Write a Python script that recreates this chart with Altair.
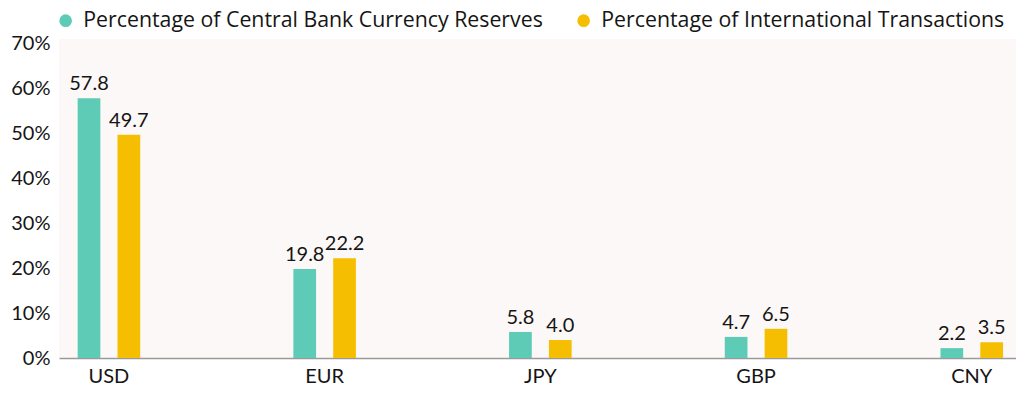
import altair as alt
import pandas as pd

currencies = ["USD", "EUR", "JPY", "GBP", "CNY"]
reserves = [57.8, 19.8, 5.8, 4.7, 2.2]
transactions = [49.7, 22.2, 4.0, 6.5, 3.5]
series_names = ["Percentage of Central Bank Currency Reserves",
                "Percentage of International Transactions"]
colors = ["#5ECBB6", "#F6BE00"]
y_ticks = [0, 10, 20, 30, 40, 50, 60, 70]

rows = []
for c, r, t in zip(currencies, reserves, transactions):
    rows.append({"currency": c, "series": series_names[0], "value": r})
    rows.append({"currency": c, "series": series_names[1], "value": t})
df = pd.DataFrame(rows)

FONT = "Lato"
LFONT = "Open Sans"
TXT = "#151515"

x = alt.X("currency:N", sort=currencies, title=None,
          scale=alt.Scale(paddingInner=0.71, paddingOuter=0.0733, align=0.59),
          axis=alt.Axis(labelAngle=0, ticks=False, domain=True, domainColor="#9a9a9a",
                        domainWidth=1.5, labelFontSize=20, labelColor=TXT, labelFont=FONT,
                        labelPadding=8))
xo = alt.XOffset("series:N", sort=series_names,
                 scale=alt.Scale(paddingInner=0.43, paddingOuter=0))
y = alt.Y("value:Q", title=None,
          scale=alt.Scale(domain=[0, 71], nice=False),
          axis=alt.Axis(values=y_ticks, labelExpr="datum.value + '%'", grid=False,
                        ticks=False, domain=False, labelFontSize=20, labelPadding=9,
                        labelColor=TXT, labelFont=FONT, minExtent=51, maxExtent=51))
color = alt.Color("series:N", sort=series_names,
                  scale=alt.Scale(domain=series_names, range=colors),
                  legend=alt.Legend(orient="none", direction="horizontal",
                                    legendX=-4, legendY=-29, title=None,
                                    symbolType="circle", padding=0,
                                    symbolSize=160, labelFontSize=21.3, labelFont=LFONT,
                                    labelColor=TXT, labelLimit=700, columnPadding=30,
                                    labelOffset=7, symbolStrokeWidth=0,
                                    symbolOpacity=1))

bars = alt.Chart(df).mark_bar().encode(x=x, xOffset=xo, y=y, color=color)
text = alt.Chart(df).mark_text(baseline="bottom", dy=-4, fontSize=20, font=FONT,
                               color=TXT).encode(
    x=x, xOffset=xo, y=y, text=alt.Text("value:Q", format=".1f"))

chart = (bars + text).properties(
    width=957, height=319,
    padding={"left": 0, "right": 0, "top": 2, "bottom": 0},
).configure_view(fill="#FCF8F7", stroke=None)

chart.save("out.html", embed_options={"renderer": "svg", "actions": False})
